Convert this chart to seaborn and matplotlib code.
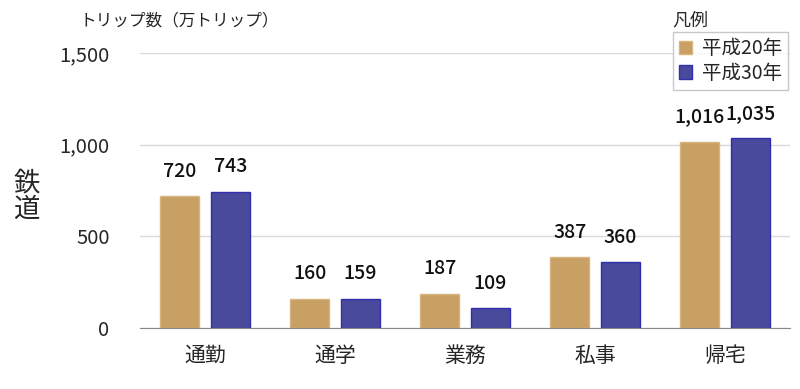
import pandas as pd
import seaborn as sns
import matplotlib.pyplot as plt
from matplotlib.patches import Patch

# Data
categories = ["通勤", "通学", "業務", "私事", "帰宅"]
years = ["平成20年", "平成30年"]
h20_values = [720, 160, 187, 387, 1016]
h30_values = [743, 159, 109, 360, 1035]

df = pd.DataFrame({
    "purpose": categories * 2,
    "year": [years[0]] * len(categories) + [years[1]] * len(categories),
    "trips": h20_values + h30_values,
})

sns.set_style("white")
plt.rcParams['font.family'] = ['Noto Sans CJK JP', 'DejaVu Sans']

colors = {"平成20年": "#C9A063", "平成30年": "#4A4A9C"}
edges = {"平成20年": "#D8B47E", "平成30年": "#2F2FB0"}

fig = plt.figure(figsize=(8, 3.89), dpi=100)
ax = fig.add_axes([0.175, 0.157, 0.8125, 0.707])

sns.barplot(data=df, x="purpose", y="trips", hue="year", palette=colors,
            width=0.78, gap=0.23, ax=ax, legend=False, saturation=1)

for container, yr in zip(ax.containers, years):
    for bar in container:
        bar.set_edgecolor(edges[yr])
        bar.set_linewidth(1)
    ax.bar_label(container, labels=[f"{v:,.0f}" for v in container.datavalues],
                 padding=11, fontsize=14, fontweight="medium", color="#111111")

ax.set_xlim(-0.5, 4.5)
ax.set_ylim(0, 1500)
ax.set_yticks([0, 500, 1000, 1500])
ax.set_yticklabels(["0", "500", "1,000", "1,500"])
ax.yaxis.grid(True, color="#D9D9D9", linewidth=1)
ax.set_axisbelow(True)
for s in ["top", "right", "left"]:
    ax.spines[s].set_visible(False)
ax.spines["bottom"].set_color("#888888")
ax.tick_params(axis="y", length=0, pad=22, labelsize=14.5)
ax.tick_params(axis="x", length=0, pad=12, labelsize=15)
ax.set_xlabel("")
ax.set_ylabel("")

fig.text(0.1, 0.945, "トリップ数（万トリップ）", fontsize=12, ha="left", va="center")
fig.text(0.033, 0.496, "鉄\n道", fontsize=19, ha="center", va="center", linespacing=0.95)

handles = [Patch(facecolor=colors[y], edgecolor=edges[y], label=y) for y in years]
leg = fig.legend(handles=handles, loc="upper right", bbox_to_anchor=(0.985, 0.917),
                 fontsize=14, frameon=True, fancybox=False, edgecolor="#BBBBBB",
                 handlelength=0.7, handleheight=0.7, handletextpad=0.5,
                 borderpad=0.3, labelspacing=0.2, borderaxespad=0)
leg.get_frame().set_linewidth(1)
fig.text(0.84, 0.948, "凡例", fontsize=13, ha="left", va="center")

fig.savefig("out.png", dpi=100)
